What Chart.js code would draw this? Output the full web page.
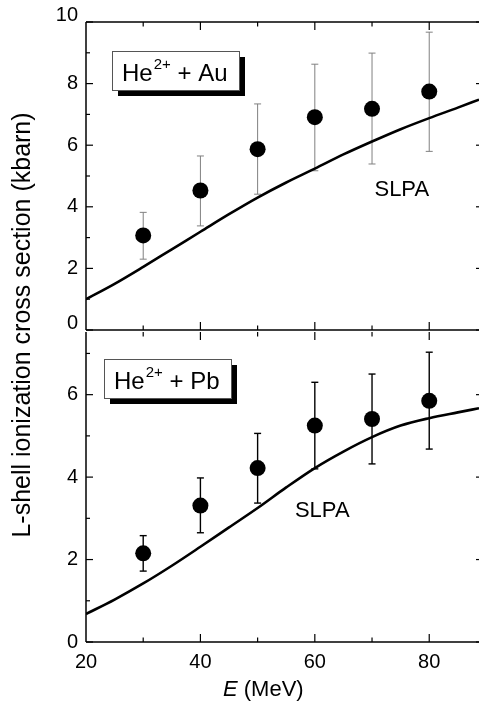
<!DOCTYPE html>
<html>
<head>
<meta charset="utf-8">
<script src="https://cdn.jsdelivr.net/npm/chart.js@4"></script>
<style>
  body { margin: 0; background: #fff; }
  #wrap { position: relative; width: 479px; height: 703px; }
  #pbChart { position: absolute; left: 0; top: 0; width: 479px; height: 703px; }
  #auChart { position: absolute; left: 0; top: 0; width: 479px; height: 350px; }
</style>
</head>
<body>
<div id="wrap">
  <canvas id="pbChart" width="479" height="703"></canvas>
  <canvas id="auChart" width="479" height="350"></canvas>
</div>
<script>
const FONT = "'Liberation Sans', Arial, sans-serif";

// measured points (MeV)
const energies = [30, 40, 50, 60, 70, 80];
const auValues = [3.07, 4.53, 5.87, 6.91, 7.18, 7.74];
const auErrLow = [2.30, 3.38, 4.41, 5.17, 5.39, 5.80];
const auErrHigh = [3.82, 5.65, 7.34, 8.63, 8.99, 9.67];
const pbValues = [2.15, 3.31, 4.22, 5.25, 5.41, 5.85];
const pbErrLow = [1.72, 2.65, 3.37, 4.20, 4.32, 4.68];
const pbErrHigh = [2.58, 3.98, 5.06, 6.30, 6.50, 7.03];

// SLPA theory curves
const slpaE = [20, 25, 30, 35, 40, 45, 50, 55, 60, 65, 70, 75, 80, 85, 88.7];
const slpaAu = [1.00, 1.50, 2.05, 2.62, 3.19, 3.76, 4.30, 4.79, 5.24, 5.70, 6.12, 6.52, 6.88, 7.22, 7.48];
const slpaPb = [0.68, 1.03, 1.42, 1.85, 2.31, 2.78, 3.25, 3.75, 4.22, 4.62, 4.97, 5.25, 5.43, 5.57, 5.67];

const xTicks = [20, 40, 60, 80];
const auYTicks = [0, 2, 4, 6, 8, 10];
const pbYTicks = [0, 2, 4, 6];

const xMin = 20, xMax = 88.7;
const auYMax = 10, pbYMax = 7.52;

const toXY = (xs, ys) => xs.map((x, i) => ({ x, y: ys[i] }));

function seg(ctx, x1, y1, x2, y2) {
  ctx.beginPath();
  ctx.moveTo(x1, y1);
  ctx.lineTo(x2, y2);
  ctx.stroke();
}

const framePlugin = {
  id: 'frame',
  afterDraw(chart, args, opts) {
    const { ctx, chartArea: a, scales: { x, y } } = chart;
    ctx.save();
    ctx.strokeStyle = '#000';
    ctx.lineWidth = 1.5;
    seg(ctx, a.left, a.top, a.left, a.bottom);
    if (opts.topLine) seg(ctx, a.left, a.top, a.right, a.top);
    seg(ctx, a.left, a.bottom, a.right, a.bottom);
    ctx.lineWidth = 1.2;
    for (let v = 0; v <= y.max; v += 1) {
      const p = y.getPixelForValue(v);
      const major = v % 2 === 0;
      seg(ctx, a.left, p, a.left + (major ? 7 : 4), p);
      if (major) seg(ctx, a.right, p, a.right - 3, p);
    }
    for (let v = 30; v <= x.max; v += 10) {
      const p = x.getPixelForValue(v);
      const len = v % 20 === 0 ? 8 : 4.5;
      seg(ctx, p, a.top, p, a.top + len);
      seg(ctx, p, a.bottom, p, a.bottom - len);
    }
    ctx.restore();
  }
};

const errorBarPlugin = {
  id: 'errorBars',
  beforeDatasetsDraw(chart, args, opts) {
    const { ctx, scales: { x, y } } = chart;
    ctx.save();
    ctx.strokeStyle = opts.color;
    ctx.lineWidth = opts.width;
    opts.lo.forEach((lo, i) => {
      const px = x.getPixelForValue(energies[i]);
      const y1 = y.getPixelForValue(lo);
      const y2 = y.getPixelForValue(opts.hi[i]);
      seg(ctx, px, y1, px, y2);
      seg(ctx, px - 3.5, y1, px + 3.5, y1);
      seg(ctx, px - 3.5, y2, px + 3.5, y2);
    });
    ctx.restore();
  }
};

const labelPlugin = {
  id: 'labels',
  afterDraw(chart, args, opts) {
    const { ctx, scales: { x, y } } = chart;
    const b = opts.box;
    ctx.save();
    ctx.fillStyle = '#000';
    ctx.fillRect(b.x + 6, b.y + 6, b.w, b.h);
    ctx.fillStyle = '#fff';
    ctx.fillRect(b.x, b.y, b.w, b.h);
    ctx.strokeStyle = '#555';
    ctx.lineWidth = 1;
    ctx.strokeRect(b.x + 0.5, b.y + 0.5, b.w, b.h);

    ctx.fillStyle = '#000';
    ctx.textBaseline = 'alphabetic';
    ctx.textAlign = 'left';
    let tx = b.x + 10;
    const base = b.y + b.h - 9;
    ctx.font = `24px ${FONT}`;
    ctx.fillText('He', tx, base);
    tx += ctx.measureText('He').width + 1;
    ctx.font = `15px ${FONT}`;
    ctx.fillText('2+', tx, base - 12);
    tx += ctx.measureText('2+').width;
    ctx.font = `24px ${FONT}`;
    ctx.fillText(' + ' + opts.target, tx, base);

    ctx.font = `22px ${FONT}`;
    ctx.textAlign = 'center';
    ctx.textBaseline = 'middle';
    ctx.fillText('SLPA', x.getPixelForValue(opts.slpa[0]), y.getPixelForValue(opts.slpa[1]));

    // end labels lifted above their ticks, as in the original
    ctx.textAlign = 'right';
    ctx.font = `20px ${FONT}`;
    (opts.liftedTicks || []).forEach((v) => {
      ctx.fillText(String(v), chart.chartArea.left - 8, y.getPixelForValue(v) - 7);
    });

    if (opts.titles) {
      ctx.textAlign = 'center';
      ctx.save();
      ctx.translate(23, 325);
      ctx.rotate(-Math.PI / 2);
      ctx.font = `25px ${FONT}`;
      ctx.fillText('L-shell ionization cross section (kbarn)', 0, 0);
      ctx.restore();

      ctx.textAlign = 'left';
      ctx.font = `italic 22px ${FONT}`;
      let ex = 223;
      ctx.fillText('E', ex, 690);
      ex += ctx.measureText('E').width;
      ctx.font = `22px ${FONT}`;
      ctx.fillText(' (MeV)', ex, 690);
    }
    ctx.restore();
  }
};

function keepTicks(list) {
  return (scale) => { scale.ticks = list.map((v) => ({ value: v })); };
}

function makeOptions(yMax, yTicks, lifted, showX, extra) {
  return {
    responsive: false,
    maintainAspectRatio: false,
    animation: false,
    devicePixelRatio: 1,
    layout: {
      autoPadding: false,
      padding: showX ? { top: 332, right: 0, bottom: 0, left: 0 } : { top: 22, right: 0, bottom: 18, left: 0 },
    },
    plugins: { legend: { display: false }, tooltip: { enabled: false }, ...extra },
    scales: {
      x: {
        type: 'linear', min: xMin, max: xMax, display: showX,
        afterBuildTicks: keepTicks(xTicks),
        afterFit: (s) => { s.height = showX ? 61 : 0; },
        grid: { display: false, drawTicks: false },
        border: { display: false },
        ticks: { color: '#000', font: { family: FONT, size: 20 }, padding: 8, maxRotation: 0 },
      },
      y: {
        type: 'linear', min: 0, max: yMax,
        afterBuildTicks: keepTicks(yTicks),
        afterFit: (s) => { s.width = 86; },
        grid: { display: false, drawTicks: false },
        border: { display: false },
        ticks: {
          color: '#000', font: { family: FONT, size: 20 }, padding: 8,
          callback: (v) => (lifted.includes(v) ? '' : String(v)),
        },
      },
    },
  };
}

function makeDatasets(values, curve) {
  return [
    { type: 'scatter', data: toXY(energies, values), pointRadius: 8, pointBackgroundColor: '#000', pointBorderWidth: 0 },
    { type: 'line', data: toXY(slpaE, curve), borderColor: '#000', borderWidth: 2.6, pointRadius: 0, cubicInterpolationMode: 'monotone', fill: false },
  ];
}

const auLifted = [0, 10];

new Chart(document.getElementById('auChart'), {
  type: 'scatter',
  data: { datasets: makeDatasets(auValues, slpaAu) },
  options: makeOptions(auYMax, auYTicks, auLifted, false, {
    errorBars: { lo: auErrLow, hi: auErrHigh, color: '#808080', width: 1 },
    frame: { topLine: true },
    labels: { target: 'Au', box: { x: 112, y: 51, w: 127, h: 39 }, slpa: [75.2, 4.56], liftedTicks: auLifted, titles: false },
  }),
  plugins: [errorBarPlugin, framePlugin, labelPlugin],
});

new Chart(document.getElementById('pbChart'), {
  type: 'scatter',
  data: { datasets: makeDatasets(pbValues, slpaPb) },
  options: makeOptions(pbYMax, pbYTicks, [], true, {
    errorBars: { lo: pbErrLow, hi: pbErrHigh, color: '#000', width: 1.4 },
    frame: { topLine: false },
    labels: { target: 'Pb', box: { x: 104, y: 359, w: 127, h: 39 }, slpa: [61.3, 3.17], titles: true },
  }),
  plugins: [errorBarPlugin, framePlugin, labelPlugin],
});
</script>
</body>
</html>
